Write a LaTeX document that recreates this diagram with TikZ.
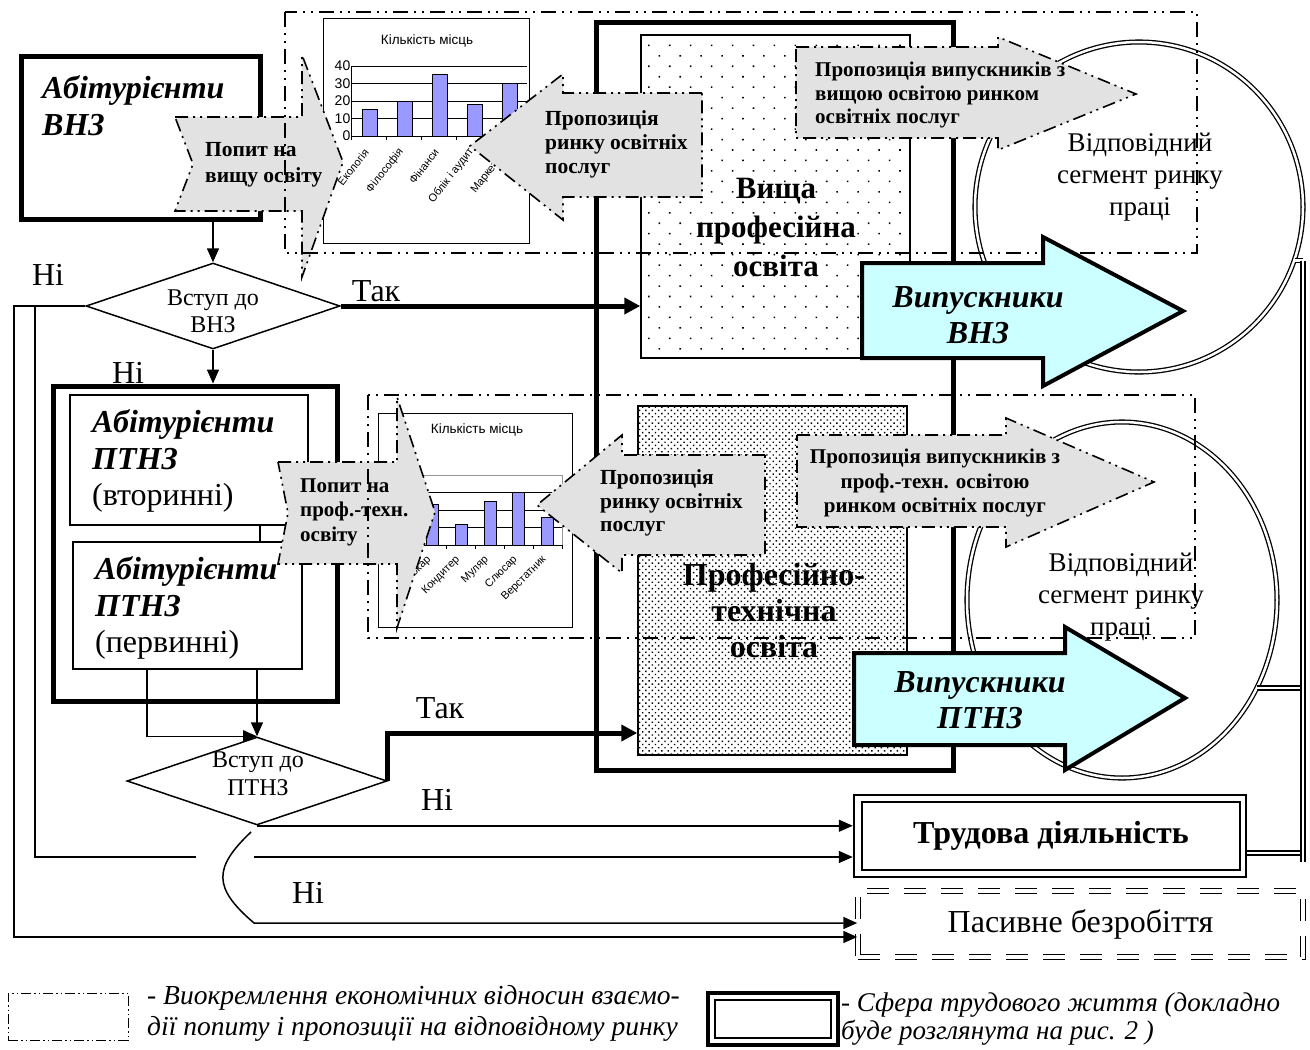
\documentclass[tikz,border=0pt]{standalone}
\usepackage{fontspec}
\setmainfont{Liberation Serif}
\newfontfamily\arialf{Liberation Sans}
\usetikzlibrary{arrows.meta,shapes.geometric,patterns.meta}
\definecolor{arrgray}{RGB}{226,226,226}
\definecolor{cyanf}{RGB}{204,255,255}
\definecolor{barblue}{RGB}{153,153,255}
\definecolor{plotgray}{RGB}{150,150,150}
\newcommand{\fsz}[2]{\fontsize{#1}{#2}\selectfont}
\tikzset{
  ddotline/.style={dash pattern=on 15pt off 6pt on 2pt off 6pt on 2pt off 6pt},
  region/.style={draw, line width=2pt, ddotline},
  grayarrow/.style={fill=arrgray, draw, line width=1.6pt, dash pattern=on 13pt off 5pt on 2pt off 5pt on 2pt off 5pt},
  cyanarrow/.style={fill=cyanf, draw, line width=4pt},
  conn/.style={line width=1.5pt, -{Triangle[length=14pt,width=12pt]}},
  yesconn/.style={line width=5pt, -{Triangle[length=16pt,width=16pt]}},
  plainline/.style={line width=1.5pt},
  lbl/.style={font=\fsz{32}{34}, inner sep=0pt},
  dbl/.style={draw, double, double distance=2.5pt, line width=1.3pt},
  boxn/.style={draw, rectangle, inner sep=0pt},
  arrtxt/.style={inner sep=0pt, align=left, anchor=west},
  chartlbl/.style={font=\arialf\fsz{11}{12}, inner sep=0pt},
}
\begin{document}
\begin{tikzpicture}[x=1pt,y=-1pt]
\useasboundingbox (0,0) rectangle (1310,1050);

% ---- central container and dotted boxes
\node[boxn, line width=5pt, minimum width=357pt, minimum height=748pt] (cont) at (774.5,396) {};
\node[boxn, line width=1.5pt, fill=white, minimum width=269pt, minimum height=323pt] (vyshcha) at (775.5,196.5) {};
\fill[pattern={Dots[distance=14.8pt,angle=45,radius=1.1pt]}] (642,36) rectangle (909,357);
\node[boxn, line width=1.5pt, fill=white, minimum width=269pt, minimum height=349pt] (proft) at (772.5,580.5) {};
\fill[pattern={Dots[distance=4.5pt,angle=45,radius=1pt]}] (639,407) rectangle (906,754);

% ---- ellipses (labour market segments)
\node[ellipse, draw, double, double distance=2.5pt, line width=1.3pt, minimum width=328pt, minimum height=330pt, inner sep=0pt] (e1) at (1139,207) {};
\node[ellipse, draw, double, double distance=2.5pt, line width=1.3pt, minimum width=310pt, minimum height=356pt, inner sep=0pt] (e2) at (1122,600) {};
\node[align=center, inner sep=0pt, font=\fsz{27}{32}] (e1t) at (1140,177) {Відповідний\\сегмент ринку\\праці};
\node[align=center, inner sep=0pt, font=\fsz{27}{32}] (e2t) at (1121,597) {Відповідний\\сегмент ринку\\праці};

% ---- left boxes
\node[boxn, line width=5pt, minimum width=239pt, minimum height=163pt] (abvnz) at (140.5,137.5) {};
\node[arrtxt, font=\bfseries\itshape\fsz{32}{37}] (abvnzt) at (42,106) {Абітурієнти\\ВНЗ};
\node[boxn, line width=5pt, minimum width=284pt, minimum height=315pt] (ptnz) at (195,543.5) {};
\node[boxn, line width=1.5pt, fill=white, minimum width=238pt, minimum height=130pt] (box1) at (189,460) {};
\node[boxn, line width=1.5pt, fill=white, minimum width=229pt, minimum height=127pt] (box2) at (187.5,605.5) {};
\node[arrtxt, font=\fsz{32}{36.5}] (box1t) at (92,461) {\textbf{\textit{Абітурієнти}}\\\textbf{\textit{ПТНЗ}}\\(вторинні)};
\node[arrtxt, font=\fsz{32}{36.5}] (box2t) at (95,608) {\textbf{\textit{Абітурієнти}}\\\textbf{\textit{ПТНЗ}}\\(первинні)};

% ---- chart 1
\node[boxn, line width=1pt, fill=white, minimum width=206pt, minimum height=225pt] (ch1) at (426,130.5) {};
\node[inner sep=0pt, font=\arialf\fsz{13.5}{14}] (ch1t) at (427,41) {Кількість місць};
\foreach \v in {0,10,20,30,40} {
  \draw[line width=1pt] (351,{136-1.75*\v}) -- (527,{136-1.75*\v});
  \node[anchor=east, inner sep=0.5pt, font=\arialf\fsz{14}{15}] (c1y\v) at (351,{136-1.75*\v}) {\v};
}
\draw[line width=1pt] (351,66) -- (351,140);
\foreach \i in {0,...,5} \draw[line width=1pt] ({351+35*\i},136) -- ({351+35*\i},140);
\foreach \cx/\v/\lab [count=\k] in {369.5/15/Екологія, 404.5/20/Філософія, 439.5/35/Фінанси, 474.5/18/Облік і аудит, 509.5/30/Маркетинг} {
  \draw[fill=barblue, line width=1pt] ({\cx-7.5},136) rectangle ({\cx+7.5},{136-1.75*\v});
  \node[chartlbl, rotate=52, anchor=east] (c1l\k) at ({\cx-3},150) {\lab};
}

% ---- chart 2
\node[boxn, line width=1pt, fill=white, minimum width=194pt, minimum height=214pt] (ch2) at (475,520) {};
\node[inner sep=0pt, font=\arialf\fsz{13.5}{14}] (ch2t) at (477,430) {Кількість місць};
\draw[plotgray, line width=1pt] (405,475) rectangle (562,545);
\foreach \y in {492.5,510,527.5} \draw[line width=1pt] (418,\y) -- (562,\y);
\draw[line width=1pt] (418,545) -- (562,545);
\draw[line width=1pt] (418,475) -- (418,549);
\foreach \i in {0,...,5} \draw[line width=1pt] ({418+28.8*\i},545) -- ({418+28.8*\i},549);
\foreach \cx/\v/\lab [count=\k] in {432.4/23/Токар, 461.2/11.5/Кондитер, 490/25/Муляр, 518.8/30/Слюсар, 547.6/16/Верстатник} {
  \draw[fill=barblue, line width=1pt] ({\cx-6},545) rectangle ({\cx+6},{545-1.75*\v});
  \node[chartlbl, rotate=45, anchor=east] (c2l\k) at ({\cx-3},558) {\lab};
}

% ---- gray arrows
\draw[grayarrow] (175,117) -- (302,117) -- (302,55) -- (343,162) -- (302,277) -- (302,211) -- (175,211) -- (193,164) -- cycle;
\node[arrtxt, font=\bfseries\fsz{21.5}{26}] (a1t) at (205,165) {Попит на\\вищу освіту};
\draw[grayarrow] (702,93) -- (563,93) -- (563,74) -- (470,146) -- (563,220) -- (563,197) -- (702,197) -- cycle;
\node[arrtxt, font=\bfseries\fsz{21.5}{24}] (a2t) at (545,144) {Пропозиція\\ринку освітніх\\послуг};
\draw[grayarrow] (796,47) -- (998,47) -- (998,37) -- (1136,94) -- (998,150) -- (998,138) -- (796,138) -- cycle;
\node[arrtxt, font=\bfseries\fsz{21}{23.5}] (a3t) at (815,95) {Пропозиція випускників з\\вищою освітою ринком\\освітніх послуг};
\draw[grayarrow] (278,462) -- (397,462) -- (397,397) -- (435,512) -- (397,628) -- (397,564) -- (278,564) -- (288,513) -- cycle;
\node[arrtxt, font=\bfseries\fsz{21}{24.5}] (a4t) at (300,512) {Попит на\\проф.-техн.\\освіту};
\draw[grayarrow] (765,455) -- (622,455) -- (622,435) -- (537,505) -- (622,573) -- (622,555) -- (765,555) -- cycle;
\node[arrtxt, font=\bfseries\fsz{21.5}{23.5}] (a5t) at (600,503) {Пропозиція\\ринку освітніх\\послуг};
\draw[grayarrow] (797,435) -- (1006,435) -- (1006,418) -- (1154,482) -- (1006,547) -- (1006,527) -- (797,527) -- cycle;
\node[inner sep=0pt, align=center, font=\bfseries\fsz{21}{24.5}] (a6t) at (935,483) {Пропозиція випускників з\\проф.-техн. освітою\\ринком освітніх послуг};

% ---- market regions (dash-dot)
\draw[region] (285,12) rectangle (1197,253);
\draw[region] (368,395) rectangle (1195,638);

% ---- education texts
\node[align=center, inner sep=0pt, font=\bfseries\fsz{31}{39}] (vyshchat) at (776,227) {Вища\\професійна\\освіта};
\node[align=center, inner sep=0pt, font=\bfseries\fsz{32}{36}] (proftt) at (774,611) {Професійно-\\технічна\\освіта};

% ---- graduates arrows
\draw[cyanarrow] (862,263) -- (1043,263) -- (1043,237) -- (1183,311) -- (1043,386) -- (1043,358) -- (862,358) -- cycle;
\node[align=center, inner sep=0pt, font=\bfseries\itshape\fsz{32}{36}] (c1t) at (978,315) {Випускники\\ВНЗ};
\draw[cyanarrow] (854,653) -- (1065,653) -- (1065,627) -- (1185,698) -- (1065,770) -- (1065,745) -- (854,745) -- cycle;
\node[align=center, inner sep=0pt, font=\bfseries\itshape\fsz{32}{36}] (c2t) at (980,700) {Випускники\\ПТНЗ};

% ---- outcome boxes
\node[boxn, line width=2.5pt, minimum width=392pt, minimum height=82pt] (trud) at (1050,836) {};
\node[boxn, line width=2pt, minimum width=378pt, minimum height=68pt, font=\bfseries\fsz{32}{34}] (trudin) at (1051,836) {Трудова діяльність};
\node[draw, double, double distance=3.5pt, line width=1.5pt, dash pattern=on 22pt off 15pt, minimum width=445pt, minimum height=66pt, inner sep=0pt, font=\fsz{32}{34}] (pas) at (1080.5,924) {Пасивне безробіття};

% ---- decisions
\node[diamond, draw, line width=1.5pt, minimum width=254pt, minimum height=86pt, aspect=2.95, inner sep=0pt] (d1) at (213,306) {};
\node[inner sep=0pt, align=center, font=\fsz{24}{27}] (d1t) at (213,311) {Вступ до\\ВНЗ};
\node[diamond, draw, line width=1.5pt, minimum width=260pt, minimum height=88pt, aspect=2.95, inner sep=0pt] (d2) at (257,781) {};
\node[inner sep=0pt, align=center, font=\fsz{24}{28}] (d2t) at (258,774) {Вступ до\\ПТНЗ};

% ---- connectors
\draw[conn] (d1.north |- abvnz.south) -- (d1.north);
\draw[conn] (d1.south) -- (d1.south |- ptnz.north);
\draw[yesconn] (d1.east) -- (vyshcha.west |- d1.east);
\draw[plainline] (box1.south -| 260,0) -- (box2.north -| 260,0);
\draw[conn] (box2.south -| 147,0) |- (d2.north);
\draw[conn] (box2.south -| d2.north) -- (d2.north);
\draw[yesconn] (d2.east) |- (proft.west |- 0,733);
\draw[conn] (d1.west) -| (14,937) -- (pas.west |- 0,937);
\draw[plainline] (d1.west -| 35,0) -- (35,857) -- (196,857);
\draw[conn] (254,857) -- (trud.west |- 0,857);
\draw[conn] (d2.south) -- (trud.west |- d2.south);
\draw[conn] (251,832) .. controls (213,868) and (213,888) .. (254,923) -- (pas.west |- 0,923);

% ---- labels
\node[lbl] (ni1) at (48,275) {Ні};
\node[lbl] (ni2) at (128,373) {Ні};
\node[lbl] (tak1) at (376,291) {Так};
\node[lbl] (tak2) at (440,708) {Так};
\node[lbl] (ni3) at (437,800) {Ні};
\node[lbl] (ni4) at (308,893) {Ні};

% ---- right double lines
\coordinate (rtop) at (1303,261);
\coordinate (rbot) at (1303,862);
\draw[dbl] (e1.-19) -- (e1.-19 -| rtop);
\draw[dbl] (e2.-33) -- (e2.-33 -| rtop);
\draw[dbl] (trud.east |- 0,853) -- (rtop |- 0,853);
\draw[dbl] (rtop) -- (rbot);

% ---- legend
\node[boxn, line width=1pt, dash pattern=on 10pt off 3pt on 1.5pt off 3pt on 1.5pt off 3pt, minimum width=120pt, minimum height=47pt] (leg1) at (68,1016.5) {};
\node[arrtxt, font=\itshape\fsz{27.5}{31}] (leg1t) at (147,1013) {- Виокремлення економічних відносин взаємо-\\дії попиту і пропозиції на відповідному ринку};
\node[boxn, line width=4pt, minimum width=130pt, minimum height=52pt] (leg2) at (773,1019) {};
\node[boxn, line width=1.5pt, minimum width=116pt, minimum height=38pt] (leg2in) at (773,1019) {};
\node[arrtxt, font=\itshape\fsz{27}{28}] (leg2t) at (841,1019) {- Сфера трудового життя (докладно\\буде розглянута на рис. 2 )};
\end{tikzpicture}
\end{document}
